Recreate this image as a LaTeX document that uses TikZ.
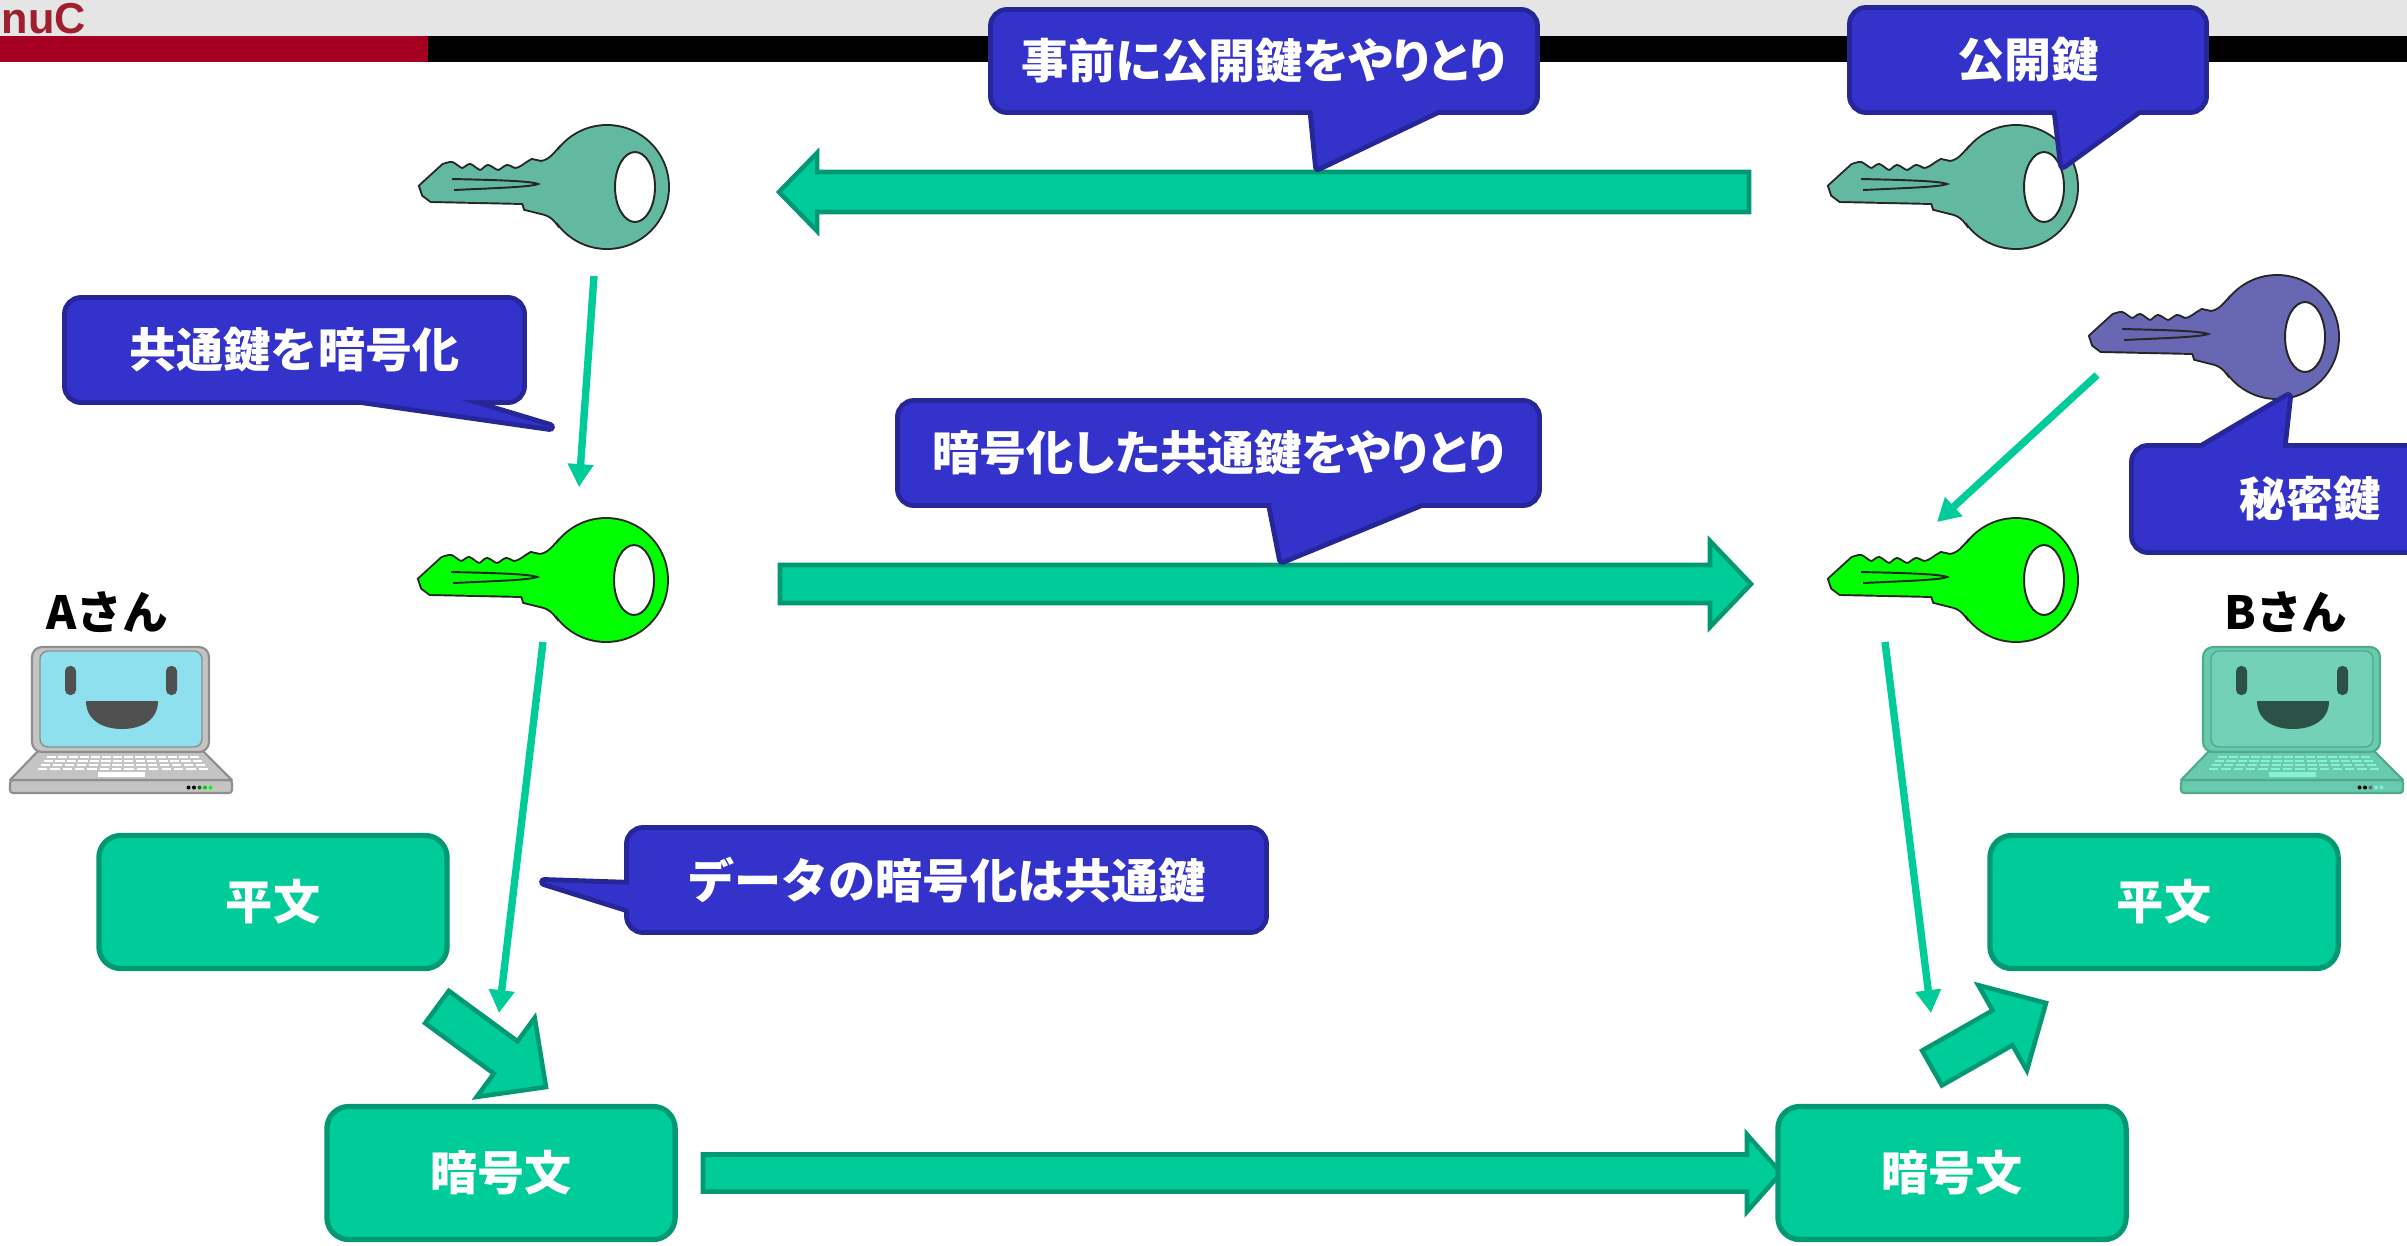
\documentclass[tikz,border=0pt]{standalone}
\usepackage{fontspec}
\setmainfont{Liberation Sans}
\newfontfamily\jp{Noto Sans CJK JP}
\newfontfamily\jpp{Noto Sans CJK JP}[RawFeature=+palt]
\usetikzlibrary{arrows.meta,calc}

\definecolor{callfill}{HTML}{3333CC}
\definecolor{callline}{HTML}{262699}
\definecolor{flow}{HTML}{00CC99}
\definecolor{flowline}{HTML}{009973}
\definecolor{pubkey}{HTML}{63B8A0}
\definecolor{comkey}{HTML}{00FF00}
\definecolor{seckey}{HTML}{6767B3}
\definecolor{headgray}{HTML}{E5E5E5}
\definecolor{headred}{HTML}{A50021}
\definecolor{logored}{HTML}{9E1F2D}
\definecolor{lapA}{HTML}{C4C4C4}
\definecolor{lapArim}{HTML}{8E8E8E}
\definecolor{scrA}{HTML}{8EE0EE}
\definecolor{faceA}{HTML}{505050}
\definecolor{lapB}{HTML}{6ACAAE}
\definecolor{lapBrim}{HTML}{4FAA8E}
\definecolor{scrB}{HTML}{72D1B6}
\definecolor{faceB}{HTML}{2C5247}
\definecolor{keysB}{HTML}{86F2D4}

% blade of a key, relative to the centre of its bow
\newcommand\keyblade[1]{%
  \path[#1] (-49,-37) .. controls (-57,-28) and (-60,-26) .. (-66,-25)
    -- (-75,-27)
    -- plot[smooth, tension=0.5] coordinates {(-75,-27) (-80,-24) (-86,-20) (-92,-18) (-100,-21) (-109,-16) (-119,-21) (-127,-16) (-137,-22) (-145,-18) (-155,-24) (-164,-22)}
    -- (-187,-1) -- (-184,8) -- (-176,14) -- (-84,16) -- (-82,22) -- (-62,27)
    .. controls (-56,29) and (-53,32) .. (-50,36) -- cycle;}

% broad block arrow: tail, tip, shaft half-width, head half-width, head length
\newcommand\fatarrow[5]{%
  \coordinate (fa-h) at ($(#2)!#5!(#1)$);
  \draw[blockarrow] ($(#1)!#3!90:(#2)$) -- ($(fa-h)!#3!-90:(#1)$) -- ($(fa-h)!#4!-90:(#1)$)
    -- (#2) -- ($(fa-h)!#4!90:(#1)$) -- ($(fa-h)!#3!90:(#1)$) -- ($(#1)!#3!-90:(#2)$) -- cycle;}

% speech bubble: name, corner, opposite corner, tail base, tail tip, tail base, text
\newcommand\callout[7]{%
  \draw[callrim] (#2) rectangle (#3);
  \draw[callrim, sharp corners, line join=round] (#4) -- (#5) -- (#6) -- cycle;
  \fill[callfill, rounded corners=0.14cm] (#2) rectangle (#3);
  \fill[callfill] (#4) -- (#5) -- (#6) -- cycle;
  \node[calltext] (#1) at ($(#2)!0.5!(#3)$) {#7};}

\tikzset{
  calltext/.style={text=white, font=\jp\bfseries\fontsize{13.4}{16}\selectfont, inner sep=0pt},
  callrim/.style={draw=callline, line width=2.8pt, rounded corners=0.14cm},
  flowbox/.style={fill=flow, draw=flowline, line width=1.5pt, rounded corners=0.22cm,
    minimum width=3.48cm, minimum height=1.33cm, text=white,
    font=\jp\bfseries\fontsize{13.4}{16}\selectfont},
  blockarrow/.style={fill=flow, draw=flowline, line width=1.3pt},
  link/.style={draw=flow, line width=2.1pt, -{Triangle[length=6.5pt,width=7pt]}},
  keyrim/.style={draw=black!85, line width=1.1pt},
  keyline/.style={draw=black!85, line width=0.55pt},
  who/.style={font=\jp\bfseries\fontsize{13}{15}\selectfont, text=black, inner sep=0pt},
  pics/key/.style={code={
    \draw[keyrim] (0,0) circle[radius=61];
    \keyblade{keyrim}
    \fill[#1] (0,0) circle[radius=61];
    \keyblade{fill=#1}
    \draw[keyline, fill=white] (28,0) ellipse[x radius=20, y radius=35];
    \draw[keyline] (-155,-8) .. controls (-110,-7) and (-76,-6) .. (-69,-3)
      .. controls (-76,0) and (-110,1) .. (-153,3);
  }},
  pics/laptop/.style n args={6}{code={
    \filldraw[fill=#1, draw=#2, line width=0.6pt, rounded corners=0.03cm] (-22,133) rectangle (200,146);
    \filldraw[fill=#1, draw=#2, line width=0.6pt, line join=round] (6,104) -- (171,104) -- (200,133) -- (-22,133) -- cycle;
    \foreach \r in {0,...,3} \foreach \k in {0,...,13}
      \fill[#5] ({15-3*\r+\k*(11+0.45*\r)},{108.5+4*\r}) rectangle ++(9.3,2.8);
    \fill[#5] (66,124.5) rectangle (113,130);
    \filldraw[fill=#1, draw=#2, line width=0.6pt, rounded corners=0.1cm] (0,0) rectangle (177,105);
    \filldraw[fill=#3, draw=#2, line width=0.4pt, rounded corners=0.08cm] (8,4) rectangle (170,100);
    \fill[#4, rounded corners=0.05cm] (33,19) rectangle (44,48) (134,19) rectangle (145,48);
    \fill[#4] (54,54) -- (126,54) .. controls (126,74) and (108,82) .. (90,82)
      .. controls (72,82) and (54,74) .. (54,54) -- cycle;
    \foreach \c [count=\i] in {#6} \fill[\c] ({151+5.5*\i},140.5) circle[radius=2];
  }},
}

\begin{document}
\begin{tikzpicture}[x=0.01cm, y=-0.01cm]
\useasboundingbox (0,0) rectangle (2407,1245);
\clip (0,0) rectangle (2407,1245);
\fill[white] (0,0) rectangle (2407,1245);

% title band
\fill[headgray] (0,0) rectangle (2407,36);
\fill[headred] (0,36) rectangle (428,62);
\fill[black] (428,36) rectangle (2407,62);
\node[anchor=base west, inner sep=0pt, text=logored, font=\bfseries\fontsize{12.3}{13}\selectfont] (logo) at (1,33) {nuC};

% block arrows
\coordinate (pubTail) at (1749,192);  \coordinate (pubTip) at (779,192);
\coordinate (encTail) at (780,584);   \coordinate (encTip) at (1751,584);
\coordinate (dataTail) at (703,1173); \coordinate (dataTip) at (1781,1173);
\coordinate (lockTail) at (437,1007); \coordinate (lockTip) at (546,1087);
\coordinate (openTail) at (1932,1068); \coordinate (openTip) at (2046,1003);
\fatarrow{pubTail}{pubTip}{0.20cm}{0.39cm}{0.38cm}
\fatarrow{encTail}{encTip}{0.19cm}{0.43cm}{0.41cm}
\fatarrow{dataTail}{dataTip}{0.185cm}{0.385cm}{0.34cm}
\fatarrow{lockTail}{lockTip}{0.20cm}{0.49cm}{0.50cm}
\fatarrow{openTail}{openTip}{0.20cm}{0.49cm}{0.50cm}

% keys
\pic (pubA) at (607,187) {key=pubkey};
\pic (pubB) at (2016,187) {key=pubkey};
\pic (comA) at (606,580) {key=comkey};
\pic (comB) at (2016,580) {key=comkey};
\pic (secB) at (2277,337) {key=seckey};

% computers
\pic (pcA) at (32,647) {laptop={lapA}{lapArim}{scrA}{faceA}{white}{black,black,green!45!black,green!80!black,green}};
\pic (pcB) at (2203,647) {laptop={lapB}{lapBrim}{scrB}{faceB}{keysB}{black,black,black!60,keysB,keysB}};
\node[who] (userA) at (107,612) {Aさん};
\node[who] (userB) at (2286,612) {Bさん};

% key flow
\coordinate (pubAout) at (594,276);  \coordinate (comAin) at (579,487);
\coordinate (comAout) at (543,642);  \coordinate (cipherAin) at (499,1013);
\coordinate (secBout) at (2097,375); \coordinate (comBin) at (1937,522);
\coordinate (comBout) at (1885,642); \coordinate (plainBin) at (1931,1013);
\draw[link] (pubAout) -- (comAin);
\draw[link] (comAout) -- (cipherAin);
\draw[link] (secBout) -- (comBin);
\draw[link] (comBout) -- (plainBin);

% texts
\node[flowbox] (plainA) at (273,902) {平文};
\node[flowbox] (cipherA) at (501,1173) {暗号文};
\node[flowbox] (plainB) at (2164,902) {平文};
\node[flowbox] (cipherB) at (1952,1173) {暗号文};

% speech bubbles
\callout{preTalk}{993,12}{1535,110}{1312,106}{1318,167}{1446,106}{\jpp 事前に公開鍵をやりとり}
\callout{pubTag}{1852,10}{2204,110}{2056,106}{2063,165}{2144,106}{公開鍵}
\callout{encTag}{67,300}{522,400}{333,396}{550,427}{447,396}{共通鍵を暗号化}
\callout{exTalk}{900,403}{1537,503}{1270,499}{1282,560}{1431,499}{\jpp 暗号化した共通鍵をやりとり}
\callout{dataTag}{629,830}{1264,930}{633,885}{544,882}{633,910}{データの暗号化は共通鍵}
\callout{secTag}{2134,448}{2486,550}{2195,452}{2288,397}{2282,452}{秘密鍵}
\end{tikzpicture}
\end{document}
